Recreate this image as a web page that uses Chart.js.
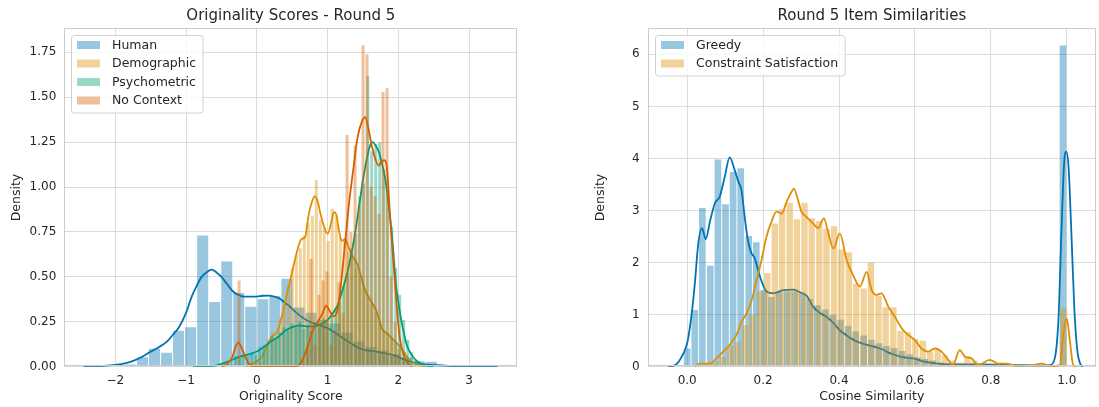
<!DOCTYPE html>
<html>
<head>
<meta charset="utf-8">
<script src="https://cdn.jsdelivr.net/npm/chart.js@4.4.1/dist/chart.umd.min.js"></script>
<style>
html,body{margin:0;padding:0;background:#ffffff;}
#wrap{position:relative;width:1099px;height:407px;overflow:hidden;}
.pane{position:absolute;top:0;height:407px;}
</style>
</head>
<body>
<div id="wrap">
  <div class="pane" style="left:0;width:549px;"><canvas id="leftChart" width="549" height="407"></canvas></div>
  <div class="pane" style="left:549px;width:550px;"><canvas id="rightChart" width="550" height="407"></canvas></div>
</div>
<script>
// ---------------- LEFT PANEL DATA ----------------
const leftTitle = 'Originality Scores - Round 5';
const leftXLabel = 'Originality Score';
const leftYLabel = 'Density';
const leftXTicks = [-2, -1, 0, 1, 2, 3];
const leftYTicks = [0, 0.25, 0.5, 0.75, 1.0, 1.25, 1.5, 1.75];
const leftSeriesNames = ['Human', 'Demographic', 'Psychometric', 'No Context'];

const humanBinWidth = 0.17;
const humanBinCenters = [-1.785,-1.615,-1.445,-1.275,-1.105,-0.935,-0.765,-0.595,-0.425,-0.255,-0.085,0.085,0.255,0.425,0.595,0.765,0.935,1.105,1.275,1.445,1.615,1.785,1.955,2.125,2.295,2.465,2.635,2.805,2.975,3.145,3.315];
const humanHeights = [0.012,0.052,0.10,0.078,0.20,0.22,0.73,0.36,0.585,0.41,0.334,0.375,0.394,0.49,0.33,0.30,0.26,0.24,0.19,0.14,0.11,0.09,0.07,0.05,0.03,0.028,0.01,0.0,0.0,0.005,0.005];

const demoBinWidth = 0.0565;
const demoBinCenters = [-0.120,-0.064,-0.007,0.049,0.106,0.162,0.219,0.275,0.332,0.388,0.445,0.501,0.558,0.614,0.671,0.727,0.784,0.840,0.897,0.953,1.010,1.066,1.123,1.179,1.236,1.292,1.349,1.405,1.462,1.518,1.575,1.631,1.688,1.744,1.801,1.857,1.914,1.970,2.027,2.083,2.140,2.196,2.253,2.309];
const demoHeights = [0.01,0.02,0.04,0.03,0.08,0.15,0.19,0.16,0.27,0.35,0.45,0.55,0.62,0.66,0.73,0.80,0.84,1.04,0.82,0.77,0.70,0.88,0.84,0.72,0.70,0.64,0.62,0.55,0.50,0.44,0.40,0.35,0.30,0.24,0.20,0.19,0.16,0.13,0.11,0.08,0.05,0.03,0.02,0.01];

const psychBinWidth = 0.0565;
const psychBinCenters = [-0.580,-0.524,-0.467,-0.411,-0.354,-0.298,-0.241,-0.185,-0.128,-0.072,-0.015,0.041,0.098,0.154,0.211,0.267,0.324,0.380,0.437,0.493,0.550,0.606,0.663,0.719,0.776,0.832,0.889,0.945,1.002,1.058,1.115,1.171,1.228,1.284,1.341,1.397,1.454,1.510,1.567,1.623,1.680,1.736,1.793,1.849,1.906,1.962,2.019,2.075,2.132,2.188,2.245,2.301,2.358];
const psychHeights = [0.01,0.0,0.02,0.02,0.04,0.06,0.05,0.07,0.06,0.08,0.07,0.11,0.12,0.13,0.17,0.15,0.19,0.22,0.20,0.24,0.22,0.25,0.21,0.23,0.20,0.24,0.22,0.27,0.24,0.30,0.33,0.36,0.45,0.52,0.66,0.74,0.95,1.02,1.62,1.20,1.24,1.25,1.10,0.95,0.78,0.55,0.40,0.26,0.15,0.08,0.04,0.02,0.01];

const noCtxBinWidth = 0.0565;
const noCtxBinCenters = [-0.364,-0.307,-0.251,-0.194,-0.138,-0.081,-0.025,0.032,0.088,0.145,0.201,0.258,0.314,0.371,0.427,0.484,0.540,0.597,0.653,0.710,0.766,0.823,0.879,0.936,0.992,1.049,1.105,1.162,1.218,1.275,1.331,1.388,1.444,1.501,1.557,1.614,1.670,1.727,1.783,1.840,1.896,1.953,2.009,2.066];
const noCtxHeights = [0,0,0.48,0,0,0,0,0,0,0,0,0,0,0,0,0,0,0,0.04,0.10,0.60,0.12,0.40,0.48,0.53,0.12,0.20,0.47,0.30,1.29,0.75,1.23,0.90,1.79,1.74,1.00,0.95,0.85,1.53,1.55,0.50,0.25,0.10,0.03];

const humanKde = [[-2.45,0],[-2.2,0.004],[-2.0,0.01],[-1.85,0.02],[-1.72,0.037],[-1.6,0.06],[-1.5,0.084],[-1.38,0.11],[-1.27,0.14],[-1.18,0.18],[-1.1,0.22],[-1.0,0.30],[-0.92,0.39],[-0.85,0.45],[-0.78,0.50],[-0.71,0.525],[-0.64,0.54],[-0.57,0.525],[-0.5,0.50],[-0.42,0.46],[-0.34,0.42],[-0.26,0.40],[-0.18,0.39],[-0.08,0.39],[0.0,0.39],[0.08,0.395],[0.17,0.396],[0.25,0.39],[0.32,0.38],[0.40,0.355],[0.47,0.334],[0.56,0.30],[0.66,0.27],[0.75,0.25],[0.85,0.235],[1.0,0.214],[1.1,0.19],[1.22,0.158],[1.35,0.125],[1.46,0.10],[1.57,0.09],[1.69,0.084],[1.8,0.075],[1.93,0.065],[2.05,0.045],[2.17,0.028],[2.3,0.016],[2.4,0.012],[2.55,0.008],[2.7,0.005],[3.0,0.002],[3.4,0.0]];
const demoKde = [[-0.15,0],[-0.05,0.02],[0.05,0.045],[0.12,0.09],[0.17,0.14],[0.22,0.17],[0.28,0.19],[0.34,0.26],[0.40,0.36],[0.47,0.48],[0.53,0.58],[0.58,0.66],[0.63,0.71],[0.68,0.72],[0.73,0.84],[0.78,0.92],[0.82,0.95],[0.86,0.92],[0.90,0.85],[0.95,0.78],[1.0,0.74],[1.05,0.80],[1.09,0.86],[1.12,0.85],[1.16,0.76],[1.20,0.70],[1.25,0.71],[1.30,0.66],[1.36,0.61],[1.41,0.58],[1.46,0.52],[1.51,0.45],[1.56,0.40],[1.62,0.36],[1.68,0.32],[1.73,0.26],[1.77,0.21],[1.82,0.19],[1.88,0.17],[1.93,0.15],[1.98,0.13],[2.03,0.11],[2.08,0.08],[2.13,0.05],[2.20,0.025],[2.28,0.01],[2.38,0]];
const psychKde = [[-0.9,0],[-0.6,0.005],[-0.4,0.03],[-0.25,0.055],[-0.1,0.07],[0.0,0.085],[0.1,0.11],[0.2,0.14],[0.3,0.165],[0.4,0.20],[0.5,0.22],[0.6,0.23],[0.7,0.225],[0.8,0.225],[0.9,0.235],[1.0,0.26],[1.08,0.30],[1.15,0.35],[1.22,0.44],[1.30,0.56],[1.37,0.70],[1.44,0.88],[1.50,1.04],[1.55,1.15],[1.60,1.23],[1.64,1.25],[1.68,1.23],[1.73,1.19],[1.78,1.11],[1.82,1.03],[1.87,0.88],[1.92,0.68],[1.96,0.48],[2.01,0.33],[2.06,0.22],[2.12,0.12],[2.18,0.07],[2.25,0.035],[2.35,0.012],[2.5,0]];
const noCtxKde = [[-0.5,0],[-0.42,0.015],[-0.35,0.05],[-0.30,0.11],[-0.26,0.135],[-0.22,0.11],[-0.16,0.05],[-0.10,0.01],[-0.05,0],[0.2,0],[0.45,0],[0.55,0],[0.62,0.02],[0.68,0.07],[0.74,0.14],[0.80,0.21],[0.86,0.25],[0.92,0.29],[0.98,0.34],[1.03,0.31],[1.08,0.28],[1.13,0.30],[1.18,0.43],[1.24,0.66],[1.30,0.90],[1.36,1.09],[1.42,1.27],[1.48,1.36],[1.53,1.39],[1.58,1.32],[1.63,1.22],[1.68,1.15],[1.72,1.12],[1.76,1.14],[1.80,1.15],[1.84,1.10],[1.88,0.85],[1.93,0.58],[1.98,0.32],[2.02,0.16],[2.07,0.07],[2.13,0.02],[2.2,0]];

// ---------------- RIGHT PANEL DATA ----------------
const rightTitle = 'Round 5 Item Similarities';
const rightXLabel = 'Cosine Similarity';
const rightYLabel = 'Density';
const rightXTicks = [0.0, 0.2, 0.4, 0.6, 0.8, 1.0];
const rightYTicks = [0, 1, 2, 3, 4, 5, 6];
const rightSeriesNames = ['Greedy', 'Constraint Satisfaction'];

const greedyBinWidth = 0.0202;
const greedyBinCenters = [0.000,0.020,0.040,0.061,0.081,0.101,0.121,0.141,0.162,0.182,0.202,0.222,0.242,0.263,0.283,0.303,0.323,0.343,0.364,0.384,0.404,0.424,0.444,0.465,0.485,0.505,0.525,0.545,0.566,0.586,0.606,0.626,0.646,0.667,0.687,0.707,0.727,0.747,0.768,0.788,0.808,0.828,0.848,0.869,0.889,0.909,0.929,0.949,0.970,0.990];
const greedyHeights = [0.35,1.09,3.05,1.94,3.98,3.12,3.74,3.81,2.51,2.39,1.48,1.34,1.44,1.45,1.45,1.40,1.30,1.18,1.10,1.00,0.90,0.78,0.68,0.60,0.52,0.45,0.40,0.36,0.30,0.24,0.18,0.15,0.12,0.08,0.06,0.05,0.05,0.04,0.03,0.03,0.02,0.02,0.02,0.02,0.01,0.02,0.01,0.01,0.01,6.17];

const csBinWidth = 0.0195;
const csBinCenters = [0.036,0.055,0.075,0.094,0.114,0.133,0.153,0.172,0.192,0.211,0.231,0.250,0.270,0.289,0.309,0.328,0.348,0.367,0.387,0.406,0.426,0.445,0.465,0.484,0.504,0.523,0.543,0.562,0.582,0.601,0.621,0.640,0.660,0.679,0.699,0.718,0.738,0.757,0.777,0.796,0.816,0.835,0.855,0.874,0.894,0.913,0.933,0.952,0.972,0.991];
const csHeights = [0.03,0.05,0.10,0.19,0.40,0.47,0.80,1.00,1.45,1.80,2.75,3.02,3.15,2.83,3.15,2.85,2.80,2.65,2.70,2.25,2.20,1.60,1.50,2.00,1.36,1.14,1.14,0.69,0.66,0.53,0.50,0.29,0.32,0.22,0.12,0.08,0.20,0.12,0.05,0.04,0.06,0.03,0.02,0.01,0.01,0.01,0.03,0.01,0.0,1.12];

const greedyKde = [[-0.05,0],[-0.028,0.05],[-0.011,0.24],[0.0,0.45],[0.007,0.75],[0.014,1.15],[0.020,1.58],[0.029,2.35],[0.039,2.66],[0.049,2.45],[0.06,2.79],[0.073,3.14],[0.086,3.27],[0.099,3.65],[0.112,4.02],[0.125,3.78],[0.135,3.55],[0.143,3.39],[0.152,2.85],[0.16,2.43],[0.168,2.2],[0.178,2.08],[0.187,1.85],[0.195,1.66],[0.21,1.44],[0.227,1.41],[0.253,1.47],[0.28,1.48],[0.3,1.42],[0.315,1.36],[0.332,1.15],[0.35,1.03],[0.367,0.96],[0.385,0.84],[0.402,0.70],[0.42,0.60],[0.437,0.52],[0.455,0.46],[0.473,0.42],[0.49,0.39],[0.508,0.35],[0.52,0.31],[0.534,0.26],[0.55,0.22],[0.565,0.19],[0.58,0.17],[0.596,0.16],[0.61,0.13],[0.622,0.10],[0.65,0.07],[0.69,0.045],[0.74,0.045],[0.78,0.045],[0.83,0.035],[0.87,0.03],[0.91,0.025],[0.94,0.02],[0.955,0.03],[0.968,0.15],[0.978,0.9],[0.986,2.6],[0.993,3.9],[0.999,4.13],[1.005,3.8],[1.012,2.6],[1.02,1.1],[1.028,0.3],[1.036,0.05],[1.042,0]];
const csKde = [[0.02,0],[0.033,0.06],[0.06,0.06],[0.077,0.16],[0.095,0.29],[0.112,0.42],[0.13,0.61],[0.143,0.86],[0.156,1.02],[0.17,1.28],[0.183,1.66],[0.196,2.05],[0.209,2.50],[0.222,2.78],[0.235,2.98],[0.249,2.94],[0.262,3.17],[0.275,3.36],[0.281,3.42],[0.292,3.20],[0.301,2.98],[0.314,2.88],[0.332,2.75],[0.345,2.66],[0.36,2.85],[0.372,2.56],[0.385,2.27],[0.402,2.56],[0.42,2.05],[0.437,1.76],[0.455,1.54],[0.473,1.82],[0.486,1.47],[0.499,1.38],[0.512,1.41],[0.53,1.15],[0.547,0.96],[0.565,0.74],[0.582,0.61],[0.6,0.51],[0.617,0.35],[0.635,0.29],[0.653,0.35],[0.67,0.29],[0.688,0.13],[0.7,0.03],[0.718,0.32],[0.732,0.19],[0.749,0.16],[0.767,0.03],[0.797,0.13],[0.82,0.06],[0.841,0.06],[0.868,0.01],[0.912,0.03],[0.934,0.06],[0.956,0.01],[0.982,0.03],[0.99,0.58],[1.0,0.93],[1.008,0.51],[1.017,0.03],[1.026,0]];

// ---------------- STYLE ----------------
const FONT = "'DejaVu Sans', 'Liberation Sans', sans-serif";
const TEXT = '#262626';
const GRID = '#dcdcdc';
const BLUE = '#0173b2', ORANGE = '#de8f05', GREEN = '#029e73', RED = '#d55e00';

Chart.defaults.font.family = FONT;
Chart.defaults.color = TEXT;

function rgba(hex, a) {
  const n = parseInt(hex.slice(1), 16);
  return 'rgba(' + ((n >> 16) & 255) + ',' + ((n >> 8) & 255) + ',' + (n & 255) + ',' + a + ')';
}

function histDataset(label, centers, heights, width, color, order) {
  return {
    type: 'bar', label: label,
    data: centers.map((c, i) => ({x: c, y: heights[i]})),
    backgroundColor: rgba(color, 0.4),
    borderWidth: 0, grouped: false, inflateAmount: 0, order: order,
    barThickness: (ctx) => {
      const s = ctx.chart.scales.x;
      if (!s) return 2;
      return Math.max(1, Math.abs(s.getPixelForValue(width) - s.getPixelForValue(0)) - 1);
    }
  };
}
function kdeDataset(label, pts, color, order) {
  return {
    type: 'line', label: label,
    data: pts.map(p => ({x: p[0], y: p[1]})),
    borderColor: color, backgroundColor: color, borderWidth: 1.8,
    pointRadius: 0, fill: false, cubicInterpolationMode: 'monotone', order: order
  };
}

const framePlugin = {
  id: 'frame',
  afterDatasetsDraw(chart) {
    const {ctx, chartArea: a} = chart;
    ctx.save();
    ctx.strokeStyle = '#cccccc';
    ctx.lineWidth = 1;
    ctx.strokeRect(Math.round(a.left) + 0.5, Math.round(a.top) + 0.5, Math.round(a.right - a.left) - 1, Math.round(a.bottom - a.top) - 1);
    ctx.restore();
  }
};

const insideLegend = {
  id: 'insideLegend',
  afterDatasetsDraw(chart, args, opts) {
    if (!opts || !opts.items) return;
    const ctx = chart.ctx, ca = chart.chartArea;
    ctx.save();
    ctx.font = opts.fontSize + 'px ' + FONT;
    let tw = 0;
    opts.items.forEach(it => { tw = Math.max(tw, ctx.measureText(it.label).width); });
    const x0 = Math.round(ca.left + 7), y0 = Math.round(ca.top + 6.7);
    const rowH = 18.5, padTop = 10, padBot = 12;
    const w = 41 + tw + 6.5;
    const h = padTop + rowH * (opts.items.length - 1) + padBot;
    ctx.beginPath();
    ctx.roundRect(x0 + 0.5, y0 + 0.5, w, h, 3);
    ctx.fillStyle = 'rgba(255,255,255,0.8)';
    ctx.fill();
    ctx.strokeStyle = 'rgba(204,204,204,0.9)';
    ctx.lineWidth = 1;
    ctx.stroke();
    ctx.textBaseline = 'middle';
    ctx.textAlign = 'left';
    opts.items.forEach((it, i) => {
      const cy = y0 + padTop + i * rowH;
      ctx.fillStyle = rgba(it.color, 0.4);
      ctx.fillRect(x0 + 6, cy - 4, 23, 8);
      ctx.fillStyle = TEXT;
      ctx.fillText(it.label, x0 + 41, cy + 0.5);
    });
    ctx.restore();
  }
};

function makeChart(id, p) {
  return new Chart(document.getElementById(id), {
    type: 'bar',
    data: {datasets: p.datasets},
    plugins: [framePlugin, insideLegend],
    options: {
      responsive: false, animation: false, devicePixelRatio: 1,
      layout: {padding: {left: p.padLeft, right: p.padRight, top: 0, bottom: 0}},
      plugins: {
        legend: {display: false},
        tooltip: {enabled: false},
        title: {display: true, text: p.title, fullSize: false, color: TEXT,
                font: {family: FONT, size: 15, weight: 'normal'}, padding: {top: 7.5, bottom: 2.8}},
        insideLegend: {items: p.legendItems, fontSize: 12.5}
      },
      scales: {
        x: {
          type: 'linear', min: p.xMin, max: p.xMax, offset: false,
          grid: {color: GRID, lineWidth: 1, drawTicks: false, offset: false},
          border: {display: false},
          ticks: {color: TEXT, font: {size: 12}, padding: 7, maxRotation: 0, callback: p.xFmt},
          afterBuildTicks: (s) => { s.ticks = p.xTicks.map(v => ({value: v})); },
          afterFit: (s) => { s.height = 40.3; },
          title: {display: true, text: p.xLabel, color: TEXT, font: {size: 12.5}, padding: {top: 0, bottom: 3}}
        },
        y: {
          type: 'linear', min: 0, max: p.yMax,
          grid: {color: GRID, lineWidth: 1, drawTicks: false},
          border: {display: false},
          ticks: {color: TEXT, font: {size: 12}, padding: 8, callback: p.yFmt},
          afterBuildTicks: (s) => { s.ticks = p.yTicks.map(v => ({value: v})); },
          afterFit: (s) => { s.width = p.yWidth; },
          title: {display: true, text: p.yLabel, color: TEXT, font: {size: 12.5}, padding: {top: 9.5, bottom: 0}}
        }
      }
    }
  });
}

const minus = (v) => (v < 0 ? '\u2212' : '');

makeChart('leftChart', {
  title: leftTitle, xLabel: leftXLabel, yLabel: leftYLabel,
  xMin: -2.72, xMax: 3.68, yMax: 1.884,
  xTicks: leftXTicks, yTicks: leftYTicks,
  xFmt: (v) => minus(v) + Math.abs(v).toFixed(0),
  yFmt: (v) => v.toFixed(2),
  padLeft: 0, padRight: 31.7, yWidth: 64.3,
  legendItems: [
    {label: leftSeriesNames[0], color: BLUE},
    {label: leftSeriesNames[1], color: ORANGE},
    {label: leftSeriesNames[2], color: GREEN},
    {label: leftSeriesNames[3], color: RED}
  ],
  datasets: [
    histDataset(leftSeriesNames[0], humanBinCenters, humanHeights, humanBinWidth, BLUE, 8),
    kdeDataset(leftSeriesNames[0] + ' KDE', humanKde, BLUE, 7),
    histDataset(leftSeriesNames[1], demoBinCenters, demoHeights, demoBinWidth, ORANGE, 6),
    kdeDataset(leftSeriesNames[1] + ' KDE', demoKde, ORANGE, 5),
    histDataset(leftSeriesNames[2], psychBinCenters, psychHeights, psychBinWidth, GREEN, 4),
    kdeDataset(leftSeriesNames[2] + ' KDE', psychKde, GREEN, 3),
    histDataset(leftSeriesNames[3], noCtxBinCenters, noCtxHeights, noCtxBinWidth, RED, 2),
    kdeDataset(leftSeriesNames[3] + ' KDE', noCtxKde, RED, 1)
  ]
});

makeChart('rightChart', {
  title: rightTitle, xLabel: rightXLabel, yLabel: rightYLabel,
  xMin: -0.104, xMax: 1.077, yMax: 6.5,
  xTicks: rightXTicks, yTicks: rightYTicks,
  xFmt: (v) => v.toFixed(1),
  yFmt: (v) => v.toFixed(0),
  padLeft: 35, padRight: 3, yWidth: 63.7,
  legendItems: [
    {label: rightSeriesNames[0], color: BLUE},
    {label: rightSeriesNames[1], color: ORANGE}
  ],
  datasets: [
    histDataset(rightSeriesNames[0], greedyBinCenters, greedyHeights, greedyBinWidth, BLUE, 4),
    kdeDataset(rightSeriesNames[0] + ' KDE', greedyKde, BLUE, 3),
    histDataset(rightSeriesNames[1], csBinCenters, csHeights, csBinWidth, ORANGE, 2),
    kdeDataset(rightSeriesNames[1] + ' KDE', csKde, ORANGE, 1)
  ]
});
</script>
</body>
</html>
